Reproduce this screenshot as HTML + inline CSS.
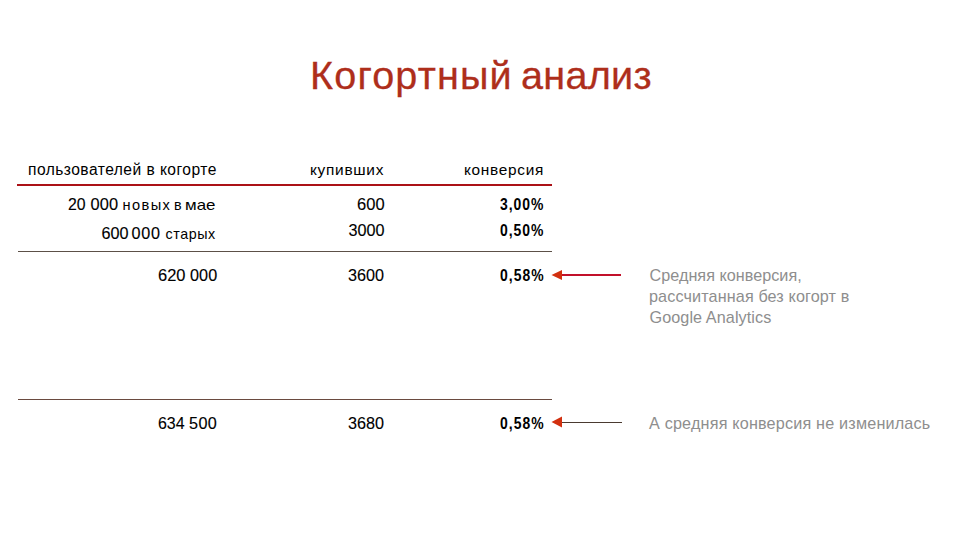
<!DOCTYPE html>
<html><head><meta charset="utf-8"><style>
html,body{margin:0;padding:0;background:#fff;}
body{width:960px;height:540px;position:relative;overflow:hidden;font-family:"Liberation Sans",sans-serif;}
.t{position:absolute;white-space:nowrap;line-height:1;transform-origin:0 0;}
.ln{position:absolute;}
</style></head><body>
<span class="t" style="left:310.00px;top:56px;font-size:39.6px;letter-spacing:1.175px;color:#ae2e1b;font-weight:400;-webkit-text-stroke:0.3px #ae2e1b">Когортный</span>
<span class="t" style="left:521.00px;top:56px;font-size:39.6px;letter-spacing:0.280px;color:#ae2e1b;font-weight:400;-webkit-text-stroke:0.3px #ae2e1b">анализ</span>
<span class="t" style="left:28.00px;top:162px;font-size:15.6px;letter-spacing:0.455px;color:#000;font-weight:400;">пользователей в когорте</span>
<span class="t" style="left:310.00px;top:162px;font-size:15.4px;letter-spacing:0.714px;color:#000;font-weight:400;">купивших</span>
<span class="t" style="left:464.00px;top:162px;font-size:15.4px;letter-spacing:0.700px;color:#000;font-weight:400;">конверсия</span>
<span class="t" style="left:67.50px;top:196px;font-size:16.4px;transform:scaleX(0.9659);color:#000;font-weight:400;-webkit-text-stroke:0.12px #000">20</span>
<span class="t" style="left:90.50px;top:196px;font-size:16.4px;letter-spacing:0.100px;color:#000;font-weight:400;-webkit-text-stroke:0.12px #000">000</span>
<span class="t" style="left:122.50px;top:198px;font-size:14.6px;letter-spacing:1.400px;color:#000;font-weight:400;">новых</span>
<span class="t" style="left:174.00px;top:198px;font-size:14.6px;transform:scaleX(0.9774);color:#000;font-weight:400;">в</span>
<span class="t" style="left:185.00px;top:198px;font-size:14.6px;transform:scaleX(1.1600);color:#000;font-weight:400;">мае</span>
<span class="t" style="left:101.50px;top:225px;font-size:16.2px;letter-spacing:0.000px;color:#000;font-weight:400;-webkit-text-stroke:0.12px #000">600</span>
<span class="t" style="left:131.50px;top:225px;font-size:16.2px;letter-spacing:0.800px;color:#000;font-weight:400;-webkit-text-stroke:0.12px #000">000</span>
<span class="t" style="left:165.50px;top:227px;font-size:14.3px;letter-spacing:0.560px;color:#000;font-weight:400;">старых</span>
<span class="t" style="left:357.00px;top:196px;font-size:16.4px;transform:scaleX(1.0082);color:#000;font-weight:400;-webkit-text-stroke:0.12px #000">600</span>
<span class="t" style="left:348.50px;top:222px;font-size:16.2px;letter-spacing:0.000px;color:#000;font-weight:400;-webkit-text-stroke:0.12px #000">3000</span>
<span class="t" style="left:500.00px;top:196px;font-size:16.2px;letter-spacing:1.163px;transform:scaleX(0.86);color:#000;font-weight:700;">3,00%</span>
<span class="t" style="left:500.00px;top:222px;font-size:16.2px;letter-spacing:1.163px;transform:scaleX(0.86);color:#000;font-weight:700;">0,50%</span>
<span class="t" style="left:158.00px;top:267px;font-size:16.2px;transform:scaleX(1.0166);color:#000;font-weight:400;-webkit-text-stroke:0.12px #000">620</span>
<span class="t" style="left:190.00px;top:267px;font-size:16.2px;letter-spacing:0.100px;color:#000;font-weight:400;-webkit-text-stroke:0.12px #000">000</span>
<span class="t" style="left:348.00px;top:267px;font-size:16.2px;letter-spacing:0.000px;color:#000;font-weight:400;-webkit-text-stroke:0.12px #000">3600</span>
<span class="t" style="left:500.00px;top:267px;font-size:16.2px;letter-spacing:1.221px;transform:scaleX(0.86);color:#000;font-weight:700;">0,58%</span>
<span class="t" style="left:158.00px;top:415px;font-size:16.2px;transform:scaleX(0.9852);color:#000;font-weight:400;-webkit-text-stroke:0.12px #000">634</span>
<span class="t" style="left:189.00px;top:415px;font-size:16.2px;letter-spacing:0.400px;color:#000;font-weight:400;-webkit-text-stroke:0.12px #000">500</span>
<span class="t" style="left:348.00px;top:415px;font-size:16.2px;letter-spacing:0.000px;color:#000;font-weight:400;-webkit-text-stroke:0.12px #000">3680</span>
<span class="t" style="left:500.00px;top:415px;font-size:16.2px;letter-spacing:1.221px;transform:scaleX(0.86);color:#000;font-weight:700;">0,58%</span>
<span class="t" style="left:649.50px;top:267px;font-size:16.2px;letter-spacing:0.024px;color:#8e8e8e;font-weight:400;">Средняя конверсия,</span>
<span class="t" style="left:649.00px;top:288px;font-size:16.2px;letter-spacing:0.117px;color:#8e8e8e;font-weight:400;">рассчитанная без когорт в</span>
<span class="t" style="left:649.50px;top:309px;font-size:16.2px;letter-spacing:0.080px;color:#8e8e8e;font-weight:400;">Google Analytics</span>
<span class="t" style="left:649.00px;top:415px;font-size:16.2px;letter-spacing:0.181px;color:#8e8e8e;font-weight:400;">А средняя конверсия не изменилась</span>
<div class="ln" style="left:17px;top:184px;width:535px;height:2px;background:#ab1117"></div>
<div class="ln" style="left:18px;top:251px;width:534px;height:1px;background:#5c5047"></div>
<div class="ln" style="left:18px;top:399px;width:534px;height:1px;background:#6a4a3f"></div>
<svg style="position:absolute;left:0;top:0" width="960" height="540">
<line x1="561" y1="275" x2="621" y2="275" stroke="#c2102a" stroke-width="2"/>
<polygon points="551.5,275 562,270 562,280" fill="#d2300f"/>
<line x1="561" y1="422.5" x2="622" y2="422.5" stroke="#4a3a30" stroke-width="1.1"/>
<polygon points="551.5,422 562,416.5 562,427.5" fill="#d2300f"/>
</svg>
</body></html>
